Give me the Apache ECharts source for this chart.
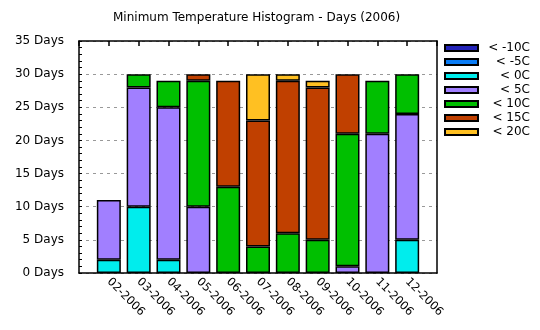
<!DOCTYPE html>
<html>
<head>
<meta charset="utf-8">
<script src="https://cdn.jsdelivr.net/npm/echarts@6/dist/echarts.min.js"></script>
<style>
  html, body { margin: 0; padding: 0; background: #fff; }
  #chart { width: 540px; height: 330px; }
</style>
</head>
<body>
<div id="chart"></div>
<script>
// Monthly counts of days by minimum-temperature band, 2006
const months = ['02-2006', '03-2006', '04-2006', '05-2006', '06-2006', '07-2006',
                '08-2006', '09-2006', '10-2006', '11-2006', '12-2006'];
const bandNames = ['< -10C', '< -5C', '< 0C', '< 5C', '< 10C', '< 15C', '< 20C'];
const belowMinus10 = [0, 0, 0, 0, 0, 0, 0, 0, 0, 0, 0];
const belowMinus5  = [0, 0, 0, 0, 0, 0, 0, 0, 0, 0, 0];
const below0       = [2, 10, 2, 0, 0, 0, 0, 0, 0, 0, 5];
const below5       = [9, 18, 23, 10, 0, 0, 0, 0, 1, 21, 19];
const below10      = [0, 2, 4, 19, 13, 4, 6, 5, 20, 8, 6];
const below15      = [0, 0, 0, 1, 16, 19, 23, 23, 9, 0, 0];
const below20      = [0, 0, 0, 0, 0, 7, 1, 1, 0, 0, 0];
const yTicks = [0, 5, 10, 15, 20, 25, 30, 35];

const bandValues = [belowMinus10, belowMinus5, below0, below5, below10, below15, below20];
const bandColors = ['#2323b8', '#0a7cf5', '#00eded', '#a17fff', '#00bf00', '#c04000', '#ffc022'];

// one empty slot at each end so the bars sit inside the frame
const axisCats = [''].concat(months, ['']);
const FONT = '"DejaVu Sans", sans-serif';

const series = bandNames.map((name, i) => ({
  name: name,
  type: 'bar',
  stack: 'days',
  barWidth: 24,
  xAxisIndex: 0,
  yAxisIndex: 0,
  itemStyle: { color: bandColors[i], borderColor: '#000', borderWidth: 1.5 },
  emphasis: { disabled: true },
  data: ['-'].concat(bandValues[i].map(v => (v === 0 ? '-' : v)), ['-'])
}));

const chart = echarts.init(document.getElementById('chart'), null, { renderer: 'canvas' });
chart.setOption({
  animation: false,
  backgroundColor: '#fff',
  textStyle: { fontFamily: FONT },
  title: {
    text: 'Minimum Temperature Histogram - Days (2006)',
    left: 113,
    top: 12,
    padding: 0,
    textStyle: { fontFamily: FONT, fontSize: 12, fontWeight: 'normal', color: '#000' }
  },
  legend: {
    orient: 'vertical',
    left: 444,
    top: 41,
    padding: 0,
    itemWidth: 33,
    itemHeight: 6,
    itemGap: 0,
    icon: 'rect',
    data: bandNames,
    selectedMode: false,
    formatter: n => '{a|' + n + '}',
    textStyle: {
      fontFamily: FONT, fontSize: 12, color: '#000', lineHeight: 14,
      rich: { a: { width: 47, align: 'right', fontSize: 12, lineHeight: 14, fontFamily: FONT } }
    }
  },
  grid: { left: 79, right: 103, top: 41, bottom: 57 },
  xAxis: [
    {
      type: 'category',
      position: 'bottom',
      data: axisCats,
      boundaryGap: false,
      axisLine: { lineStyle: { color: '#000', width: 1.5 } },
      axisTick: { show: false },
      axisLabel: {
        interval: 0, rotate: -45, margin: 7,
        fontFamily: FONT, fontSize: 11.5, color: '#000'
      },
      splitLine: { show: false }
    },
    {
      type: 'category',
      position: 'top',
      data: axisCats,
      boundaryGap: false,
      axisLine: { onZero: false, lineStyle: { color: '#000', width: 1.5 } },
      axisTick: { show: true, inside: true, length: 5, interval: 0, lineStyle: { color: '#000', width: 1.5 } },
      axisLabel: { show: false },
      splitLine: { show: false }
    }
  ],
  yAxis: [
    {
      type: 'value',
      position: 'left',
      min: yTicks[0],
      max: yTicks[yTicks.length - 1],
      interval: 5,
      axisLine: { show: true, lineStyle: { color: '#000', width: 1.5 } },
      axisTick: { show: true, inside: true, length: 3, lineStyle: { color: '#000', width: 1 } },
      minorTick: { show: true, splitNumber: 5, length: 3, lineStyle: { color: '#000', width: 1 } },
      axisLabel: {
        margin: 15, fontFamily: FONT, fontSize: 12, color: '#000',
        formatter: v => v + ' Days'
      },
      splitLine: { show: true, lineStyle: { color: '#999', width: 1, type: [3, 4] } }
    },
    {
      type: 'value',
      position: 'right',
      min: yTicks[0],
      max: yTicks[yTicks.length - 1],
      interval: 5,
      axisLine: { show: true, lineStyle: { color: '#000', width: 1.5 } },
      axisTick: { show: false },
      axisLabel: { show: false },
      splitLine: { show: false }
    }
  ],
  series: series
});
</script>
</body>
</html>
